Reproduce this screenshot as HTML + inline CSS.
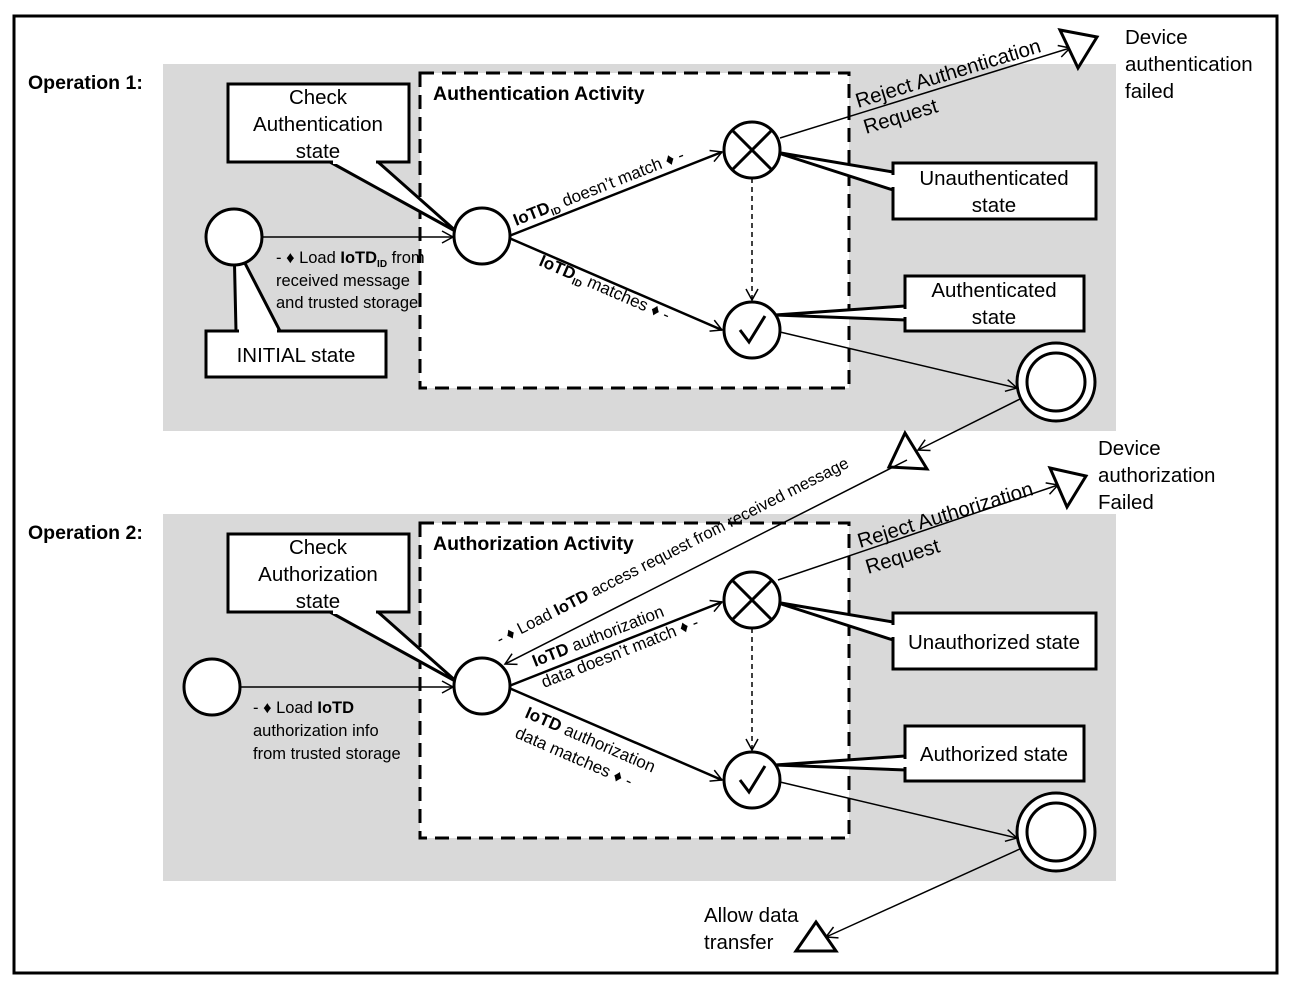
<!DOCTYPE html>
<html><head><meta charset="utf-8"><style>
html,body{margin:0;padding:0;background:#fff}
svg{display:block}
text{font-family:"Liberation Sans",sans-serif;fill:#000}
</style></head><body>
<svg width="1289" height="986" viewBox="0 0 1289 986" xmlns="http://www.w3.org/2000/svg">
<defs>
<marker id="a" markerWidth="14" markerHeight="14" refX="12" refY="7" orient="auto" markerUnits="userSpaceOnUse">
<path d="M1,1 L12,7 L1,13" fill="none" stroke="#000" stroke-width="1.5"/></marker>
</defs>
<rect x="14" y="16" width="1263" height="957" fill="#fff" stroke="#000" stroke-width="3"/>
<rect x="163" y="64" width="953" height="367" fill="#d9d9d9"/>
<rect x="163" y="514" width="953" height="367" fill="#d9d9d9"/>
<rect x="420" y="73" width="429" height="315" fill="#fff" stroke="#000" stroke-width="3" stroke-dasharray="14,8"/>
<rect x="420" y="523" width="429" height="315" fill="#fff" stroke="#000" stroke-width="3" stroke-dasharray="14,8"/>
<text x="28" y="89" font-size="19.5" font-weight="bold">Operation 1:</text>
<text x="28" y="539" font-size="19.5" font-weight="bold">Operation 2:</text>
<text x="433" y="100" font-size="19.5" font-weight="bold">Authentication Activity</text>
<text x="433" y="550" font-size="19.5" font-weight="bold">Authorization Activity</text>

<!-- OP1 -->
<g stroke="#000" fill="none">
<line x1="262" y1="237" x2="453" y2="237" stroke-width="1.5" marker-end="url(#a)"/>
<line x1="509" y1="236" x2="722" y2="152" stroke-width="2.5" marker-end="url(#a)"/>
<line x1="509" y1="238" x2="722" y2="330" stroke-width="2.5" marker-end="url(#a)"/>
<line x1="752" y1="178" x2="752" y2="300" stroke-width="1.5" stroke-dasharray="5,4" marker-end="url(#a)"/>
<line x1="780" y1="138" x2="1070" y2="48" stroke-width="1.5" marker-end="url(#a)"/>
<line x1="780" y1="332" x2="1017" y2="388" stroke-width="1.5" marker-end="url(#a)"/>
<line x1="1022" y1="398" x2="918" y2="450" stroke-width="1.5" marker-end="url(#a)"/>
</g>
<polygon points="330,162 378,162 457,232" fill="#fff" stroke="#000" stroke-width="3"/>
<rect x="228" y="84" width="181" height="78" fill="#fff" stroke="#000" stroke-width="3"/>
<line x1="333" y1="162" x2="376" y2="162" stroke="#fff" stroke-width="4"/>
<polygon points="236,331 280,331 234,242" fill="#fff" stroke="#000" stroke-width="3"/>
<rect x="206" y="331" width="180" height="46" fill="#fff" stroke="#000" stroke-width="3"/>
<line x1="239" y1="331" x2="277" y2="331" stroke="#fff" stroke-width="4"/>
<polygon points="893,172 893,190 775,152" fill="#fff" stroke="#000" stroke-width="3"/>
<rect x="893" y="163" width="203" height="56" fill="#fff" stroke="#000" stroke-width="3"/>
<line x1="893" y1="175" x2="893" y2="187" stroke="#fff" stroke-width="4"/>
<polygon points="905,306 905,320 775,315" fill="#fff" stroke="#000" stroke-width="3"/>
<rect x="905" y="276" width="179" height="55" fill="#fff" stroke="#000" stroke-width="3"/>
<line x1="905" y1="309" x2="905" y2="317" stroke="#fff" stroke-width="4"/>
<g stroke="#000" stroke-width="3" fill="#fff">
<circle cx="234" cy="237" r="28"/>
<circle cx="482" cy="236" r="28"/>
<circle cx="752" cy="150" r="28"/>
<circle cx="752" cy="330" r="28"/>
<circle cx="1056" cy="382" r="39"/>
<circle cx="1056" cy="382" r="29"/>
<polygon points="1060,30 1097,37 1078,68"/>
<polygon points="905,433 927,469 889,467"/>
</g>
<path d="M733,131 L771,169 M771,131 L733,169" stroke="#000" stroke-width="3"/>
<path d="M740,330 L749,342 L765,316" stroke="#000" stroke-width="3" fill="none"/>
<text font-size="20.5" text-anchor="middle"><tspan x="318" y="104">Check</tspan><tspan x="318" y="131">Authentication</tspan><tspan x="318" y="158">state</tspan></text>
<text x="296" y="362" font-size="20.5" text-anchor="middle">INITIAL state</text>
<text font-size="20.5" text-anchor="middle"><tspan x="994" y="185">Unauthenticated</tspan><tspan x="994" y="212">state</tspan></text>
<text font-size="20.5" text-anchor="middle"><tspan x="994" y="297">Authenticated</tspan><tspan x="994" y="324">state</tspan></text>
<text font-size="20.5"><tspan x="1125" y="44">Device</tspan><tspan x="1125" y="71">authentication</tspan><tspan x="1125" y="98">failed</tspan></text>
<text font-size="16.5"><tspan x="276" y="263">- ♦ Load <tspan font-weight="bold">IoTD</tspan><tspan font-size="10" font-weight="bold" dy="4">ID</tspan><tspan dy="-4"> from</tspan></tspan><tspan x="276" y="286">received message</tspan><tspan x="276" y="308">and trusted storage</tspan></text>
<text font-size="17" transform="translate(516,226) rotate(-21.5)"><tspan font-weight="bold">IoTD</tspan><tspan font-size="10" font-weight="bold" dy="4">ID</tspan><tspan dy="-4"> doesn’t match ♦ -</tspan></text>
<text font-size="17" transform="translate(538,265) rotate(23.5)"><tspan font-weight="bold">IoTD</tspan><tspan font-size="10" font-weight="bold" dy="4">ID</tspan><tspan dy="-4"> matches ♦ -</tspan></text>
<text font-size="20.5" transform="translate(858,108) rotate(-17)">Reject Authentication</text>
<text font-size="20.5" transform="translate(866,134) rotate(-17)">Request</text>

<!-- OP2 -->
<g stroke="#000" fill="none">
<line x1="240" y1="687" x2="453" y2="687" stroke-width="1.5" marker-end="url(#a)"/>
<line x1="907" y1="460" x2="505" y2="664" stroke-width="1.5" marker-end="url(#a)"/>
<line x1="509" y1="686" x2="722" y2="602" stroke-width="2.5" marker-end="url(#a)"/>
<line x1="509" y1="688" x2="722" y2="780" stroke-width="2.5" marker-end="url(#a)"/>
<line x1="752" y1="628" x2="752" y2="750" stroke-width="1.5" stroke-dasharray="5,4" marker-end="url(#a)"/>
<line x1="778" y1="580" x2="1058" y2="485" stroke-width="1.5" marker-end="url(#a)"/>
<line x1="780" y1="782" x2="1017" y2="838" stroke-width="1.5" marker-end="url(#a)"/>
<line x1="1022" y1="848" x2="826" y2="937" stroke-width="1.5" marker-end="url(#a)"/>
</g>
<polygon points="330,612 378,612 457,682" fill="#fff" stroke="#000" stroke-width="3"/>
<rect x="228" y="534" width="181" height="78" fill="#fff" stroke="#000" stroke-width="3"/>
<line x1="333" y1="612" x2="376" y2="612" stroke="#fff" stroke-width="4"/>
<polygon points="893,622 893,640 775,602" fill="#fff" stroke="#000" stroke-width="3"/>
<rect x="893" y="613" width="203" height="56" fill="#fff" stroke="#000" stroke-width="3"/>
<line x1="893" y1="625" x2="893" y2="637" stroke="#fff" stroke-width="4"/>
<polygon points="905,756 905,770 775,765" fill="#fff" stroke="#000" stroke-width="3"/>
<rect x="905" y="726" width="179" height="55" fill="#fff" stroke="#000" stroke-width="3"/>
<line x1="905" y1="759" x2="905" y2="767" stroke="#fff" stroke-width="4"/>
<g stroke="#000" stroke-width="3" fill="#fff">
<circle cx="212" cy="687" r="28"/>
<circle cx="482" cy="686" r="28"/>
<circle cx="752" cy="600" r="28"/>
<circle cx="752" cy="780" r="28"/>
<circle cx="1056" cy="832" r="39"/>
<circle cx="1056" cy="832" r="29"/>
<polygon points="1050,468 1086,476 1067,507"/>
<polygon points="816,922 836,951 796,951"/>
</g>
<path d="M733,581 L771,619 M771,581 L733,619" stroke="#000" stroke-width="3"/>
<path d="M740,780 L749,792 L765,766" stroke="#000" stroke-width="3" fill="none"/>
<text font-size="20.5" text-anchor="middle"><tspan x="318" y="554">Check</tspan><tspan x="318" y="581">Authorization</tspan><tspan x="318" y="608">state</tspan></text>
<text x="994" y="649" font-size="20.5" text-anchor="middle">Unauthorized state</text>
<text x="994" y="761" font-size="20.5" text-anchor="middle">Authorized state</text>
<text font-size="20.5"><tspan x="1098" y="455">Device</tspan><tspan x="1098" y="482">authorization</tspan><tspan x="1098" y="509">Failed</tspan></text>
<text font-size="20.5"><tspan x="704" y="922">Allow data</tspan><tspan x="704" y="949">transfer</tspan></text>
<text font-size="16.5"><tspan x="253" y="713">- ♦ Load <tspan font-weight="bold">IoTD</tspan></tspan><tspan x="253" y="736">authorization info</tspan><tspan x="253" y="759">from trusted storage</tspan></text>
<text font-size="16.5" transform="translate(500,645) rotate(-27)">- ♦ Load <tspan font-weight="bold">IoTD</tspan> access request from received message</text>
<text font-size="17" transform="translate(535,667) rotate(-21.5)"><tspan font-weight="bold">IoTD</tspan> authorization</text>
<text font-size="17" transform="translate(544,688) rotate(-21.5)">data doesn’t match ♦ -</text>
<text font-size="17" transform="translate(524,717) rotate(23.5)"><tspan font-weight="bold">IoTD</tspan> authorization</text>
<text font-size="17" transform="translate(514,737) rotate(23.5)">data matches ♦ -</text>
<text font-size="20.5" transform="translate(860,548) rotate(-17)">Reject Authorization</text>
<text font-size="20.5" transform="translate(868,574) rotate(-17)">Request</text>
</svg>
</body></html>
